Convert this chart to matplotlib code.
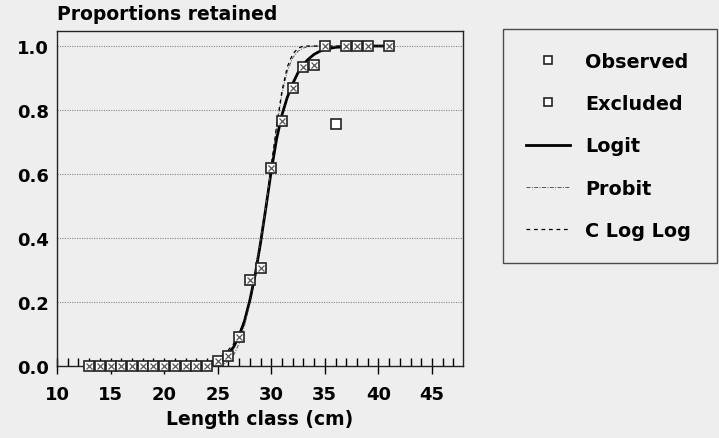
import numpy as np
import matplotlib.pyplot as plt
from matplotlib.ticker import MultipleLocator

# observed proportions retained per length class
obs_len = [13, 14, 15, 16, 17, 18, 19, 20, 21, 22, 23, 24,
           25, 26, 27, 28, 29, 30, 31, 32, 33, 34, 35, 37, 38, 39, 41]
obs_prop = [0, 0, 0, 0, 0, 0, 0, 0, 0, 0, 0, 0,
            0.015, 0.03, 0.09, 0.27, 0.305, 0.62, 0.765, 0.87, 0.935, 0.94,
            1.0, 1.0, 1.0, 1.0, 1.0]

# excluded from the fit
exc_len = [36]
exc_prop = [0.755]

# fitted curves, read at half-cm steps
curve_len = [13, 20, 22, 23, 23.5, 24, 24.5, 25, 25.5, 26, 26.5, 27, 27.5, 28,
             28.5, 29, 29.5, 30, 30.5, 31, 31.5, 32, 32.5, 33, 33.5, 34, 34.5,
             35, 36, 37, 38, 41]
logit = [0.0, 0.0, 0.001, 0.002, 0.004, 0.006, 0.01, 0.015, 0.024, 0.038, 0.06,
         0.095, 0.14, 0.205, 0.285, 0.385, 0.495, 0.61, 0.71, 0.785, 0.84, 0.882,
         0.917, 0.943, 0.96, 0.974, 0.983, 0.99, 0.996, 0.998, 1.0, 1.0]
probit = [0.0, 0.0, 0.0, 0.0, 0.0, 0.0, 0.001, 0.002, 0.006, 0.015, 0.035,
          0.07, 0.125, 0.2, 0.285, 0.39, 0.5, 0.625, 0.745, 0.85, 0.922, 0.963,
          0.984, 0.994, 0.998, 1.0, 1.0, 1.0, 1.0, 1.0, 1.0, 1.0]
cloglog = [0.0, 0.0, 0.002, 0.005, 0.007, 0.01, 0.016, 0.025, 0.036, 0.05, 0.07,
           0.1, 0.145, 0.2, 0.28, 0.38, 0.5, 0.625, 0.75, 0.86, 0.935, 0.975,
           0.993, 1.0, 1.0, 1.0, 1.0, 1.0, 1.0, 1.0, 1.0, 1.0]

plt.rcParams['font.family'] = ['DejaVu Sans']
plt.rcParams['font.weight'] = 'bold'
plt.rcParams['axes.labelweight'] = 'bold'
plt.rcParams['font.size'] = 13

bg = '#eeeeee'
fig = plt.figure(figsize=(7.19, 4.39), dpi=100, facecolor=bg)
ax = fig.add_axes([57 / 719, 72 / 439, 406 / 719, 335 / 439], facecolor=bg)

ax.set_xlim(10, 47.9)
ax.set_ylim(0, 1.047)

for y in [0.2, 0.4, 0.6, 0.8, 1.0]:
    ax.axhline(y, color='#888888', lw=0.8, ls=(0, (1, 1.2)), zorder=1)

ax.plot(curve_len, logit, color='black', lw=2.0, zorder=3, label='Logit')
ax.plot(curve_len, probit, color='#555555', lw=0.7, ls=(0, (4, 1.5, 1, 1.5)),
        zorder=3, label='Probit')
ax.plot(curve_len, cloglog, color='black', lw=0.9, ls=(0, (3, 3)),
        zorder=3, label='C Log Log')

ax.plot(obs_len, obs_prop, ls='none', marker='s', ms=7.5, mfc='white', mec='#222222',
        mew=1.2, zorder=4, clip_on=False, label='Observed')
ax.plot(obs_len, obs_prop, ls='none', marker='x', ms=4, mec='#555555', mew=0.9,
        zorder=5, clip_on=False)
ax.plot(exc_len, exc_prop, ls='none', marker='s', ms=7.5, mfc='white', mec='#222222',
        mew=1.2, zorder=4, label='Excluded')

for s in ax.spines.values():
    s.set_linewidth(1.0)
    s.set_color('#222222')

ax.xaxis.set_major_locator(MultipleLocator(5))
ax.xaxis.set_minor_locator(MultipleLocator(1))
ax.tick_params(axis='x', which='major', direction='inout', length=12, width=1.0,
               pad=8, labelsize=13)
ax.tick_params(axis='x', which='minor', direction='in', length=6, width=1.0)
ax.set_yticks([0.0, 0.2, 0.4, 0.6, 0.8, 1.0])
ax.set_yticklabels(['0.0', '0.2', '0.4', '0.6', '0.8', '1.0'])
ax.tick_params(axis='y', length=0, pad=6, labelsize=13)

ax.set_xlabel('Length class (cm)', fontsize=13.5, labelpad=4)
fig.text(57 / 719, 1 - 15 / 439, 'Proportions retained', fontsize=13.5,
         ha='left', va='center')

handles, labels = ax.get_legend_handles_labels()
order = ['Observed', 'Excluded', 'Logit', 'Probit', 'C Log Log']
hmap = dict(zip(labels, handles))
leg = fig.legend([hmap[k] for k in order], order, loc='upper left',
                 bbox_to_anchor=(503 / 719, 1 - 34 / 439, 214 / 719, 0.01),
                 mode='expand', fontsize=13.8, markerscale=0.8, handlelength=2.3,
                 handletextpad=0.8, labelspacing=1.22, borderpad=1.2,
                 borderaxespad=0, fancybox=False, frameon=True)
leg.get_frame().set_edgecolor('#222222')
leg.get_frame().set_facecolor(bg)
leg.get_frame().set_linewidth(1.0)

fig.savefig('out.png', dpi=100, facecolor=bg)
